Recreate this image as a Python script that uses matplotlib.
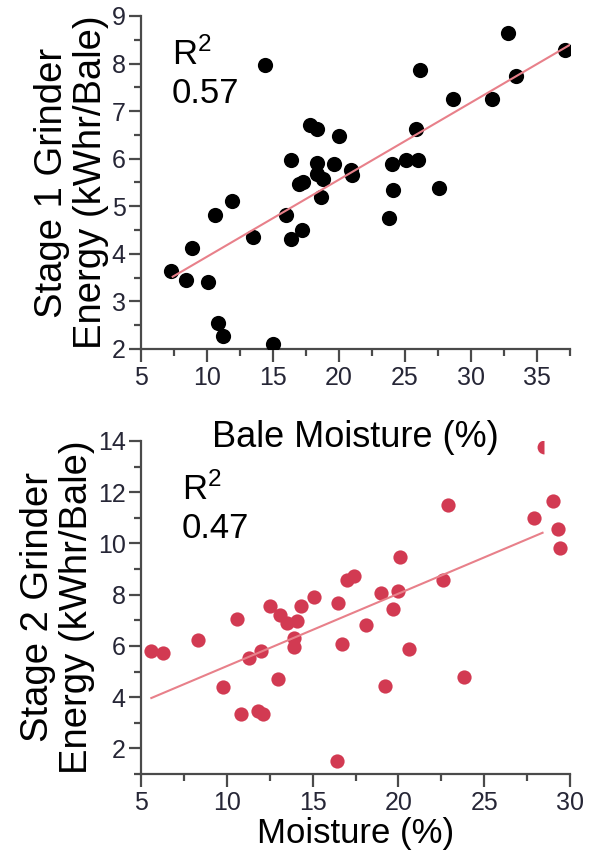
import numpy as np
import matplotlib
matplotlib.use('Agg')
import matplotlib.pyplot as plt
from matplotlib.ticker import MultipleLocator

plt.rcParams['font.family'] = ['Liberation Sans', 'DejaVu Sans']
plt.rcParams['mathtext.fontset'] = 'custom'
plt.rcParams['mathtext.rm'] = 'Liberation Sans'
plt.rcParams['mathtext.it'] = 'Liberation Sans:italic'

# stage 1 grinder: bale moisture (%) vs energy (kWhr/bale)
s1_moist = [7.3, 8.4, 8.9, 10.1, 10.6, 11.9, 10.8, 11.2, 15.0, 13.5,
            14.4, 16.0, 16.4, 17.2, 16.4, 17.0, 17.3, 18.3, 18.8, 18.6,
            18.3, 19.6, 20.9, 17.8, 18.3, 20.0, 21.0, 24.0, 25.1, 26.0,
            24.1, 23.8, 27.6, 25.8, 26.1, 28.6, 31.6, 33.4, 32.8, 37.1]
s1_energy = [3.63, 3.45, 4.13, 3.41, 4.81, 5.11, 2.55, 2.28, 2.10, 4.35,
             7.97, 4.81, 4.31, 4.50, 5.97, 5.47, 5.50, 5.68, 5.57, 5.20,
             5.90, 5.89, 5.76, 6.71, 6.62, 6.48, 5.66, 5.89, 5.97, 5.97,
             5.35, 4.75, 5.38, 6.62, 7.87, 7.25, 7.25, 7.74, 8.64, 8.29]
s1_fit = (2.32, 0.162)   # intercept, slope
s1_fit_x = [7.4, 37.5]
s1_r2 = '0.57'

# stage 2 grinder
s2_moist = [5.6, 6.3, 8.3, 10.6, 9.8, 10.8, 11.3, 12.0, 11.8, 12.1,
            12.5, 13.0, 13.1, 13.5, 14.1, 14.3, 13.9, 13.9, 15.1, 16.5,
            16.7, 16.4, 17.0, 17.4, 18.1, 19.0, 19.2, 19.7, 20.0, 20.1,
            20.6, 22.6, 22.9, 23.8, 27.9, 29.0, 29.3, 29.4]
s2_energy = [5.81, 5.73, 6.23, 7.06, 4.38, 3.36, 5.54, 5.81, 3.45, 3.36,
             7.57, 4.70, 7.21, 6.90, 6.96, 7.57, 6.29, 5.95, 7.91, 7.66,
             6.06, 1.51, 8.57, 8.74, 6.81, 8.06, 4.45, 7.46, 8.14, 9.49,
             5.89, 8.57, 11.51, 4.79, 11.00, 11.67, 10.57, 9.83]
s2_cut = (28.5, 13.78)   # point half hidden at the top edge
s2_fit = (2.38, 0.283)
s2_fit_x = [5.6, 28.4]
s2_r2 = '0.47'

line_col = '#e8808a'
tick_col = '#262636'
spine_col = '#4a4a4a'

fig = plt.figure(figsize=(5.94, 8.64), dpi=100)
ax1 = fig.add_axes([0.2374, 0.5961, 0.7222, 0.3854])
ax2 = fig.add_axes([0.2374, 0.1042, 0.7222, 0.3854])
ax2.patch.set_alpha(0)


def style(ax):
    for s in ['top', 'right']:
        ax.spines[s].set_visible(False)
    for s in ['left', 'bottom']:
        ax.spines[s].set_color(spine_col)
        ax.spines[s].set_linewidth(1.6)
    ax.tick_params(which='major', length=9, width=1.6, color=spine_col,
                   labelsize=18, labelcolor=tick_col)
    ax.tick_params(which='minor', length=5, width=1.6, color=spine_col)
    ax.tick_params(axis='y', pad=2)
    ax.tick_params(axis='x', pad=3)


# top panel
ax1.scatter(s1_moist, s1_energy, s=120, color='black', zorder=3, lw=0)
fx = np.array(s1_fit_x)
ax1.plot(fx, s1_fit[0] + s1_fit[1] * fx, color=line_col, lw=1.5, zorder=4)
ax1.set_xlim(5, 37.5)
ax1.set_ylim(2, 9)
ax1.xaxis.set_major_locator(MultipleLocator(5))
ax1.xaxis.set_minor_locator(MultipleLocator(2.5))
ax1.yaxis.set_major_locator(MultipleLocator(1))
ax1.yaxis.set_minor_locator(MultipleLocator(0.5))
style(ax1)
ax1.set_xlabel('Bale Moisture (%)', fontsize=26, labelpad=22)
ax1.set_ylabel('Stage 1 Grinder\nEnergy (kWhr/Bale)', fontsize=27.5,
               labelpad=2, linespacing=1.1)
ax1.text(0.072, 0.935, 'R$^2$\n' + s1_r2, transform=ax1.transAxes,
         fontsize=25, va='top', ha='left', linespacing=1.2)

# bottom panel
ax2.scatter(s2_moist, s2_energy, s=105, color='#d23a52', zorder=3, lw=0)
ax2.plot([s2_cut[0]], [s2_cut[1]], marker='o', ms=10, fillstyle='left',
         color='#d23a52', mew=0, ls='none', zorder=3)
fx = np.array(s2_fit_x)
ax2.plot(fx, s2_fit[0] + s2_fit[1] * fx, color=line_col, lw=1.5, zorder=4)
ax2.set_xlim(5, 30)
ax2.set_ylim(1, 14)
ax2.xaxis.set_major_locator(MultipleLocator(5))
ax2.xaxis.set_minor_locator(MultipleLocator(2.5))
ax2.yaxis.set_major_locator(MultipleLocator(2))
ax2.yaxis.set_minor_locator(MultipleLocator(1))
style(ax2)
ax2.set_xlabel('Moisture (%)', fontsize=25, labelpad=2)
ax2.set_ylabel('Stage 2 Grinder\nEnergy (kWhr/Bale)', fontsize=27.5,
               labelpad=2, linespacing=1.1)
ax2.text(0.095, 0.905, 'R$^2$\n' + s2_r2, transform=ax2.transAxes,
         fontsize=25, va='top', ha='left', linespacing=1.2)

fig.savefig('out.png', dpi=100)
